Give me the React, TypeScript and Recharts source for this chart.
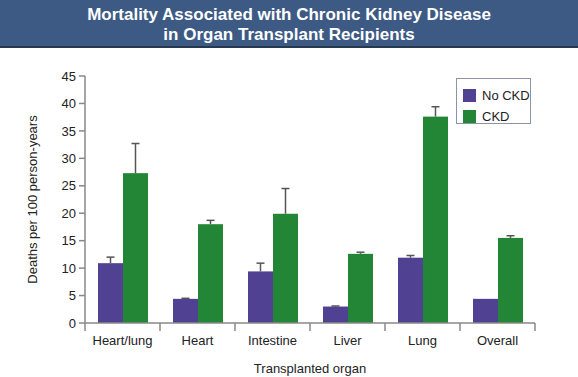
import { BarChart, Bar, XAxis, YAxis, Legend } from "recharts";

const organs = ["Heart/lung", "Heart", "Intestine", "Liver", "Lung", "Overall"];
const noCkd = [10.9, 4.4, 9.4, 3.0, 11.9, 4.4];
const noCkdErr = [1.1, 0.1, 1.5, 0.1, 0.4, 0];
const ckd = [27.3, 18.0, 19.9, 12.6, 37.6, 15.5];
const ckdErr = [5.4, 0.7, 4.6, 0.3, 1.8, 0.4];
const yTicks = [0, 5, 10, 15, 20, 25, 30, 35, 40, 45];

const PURPLE = "#514193";
const GREEN = "#238636";
const FONT = "'Liberation Sans', Arial, Helvetica, sans-serif";

const data = organs.map((o, i) => ({
  organ: o,
  noCkd: noCkd[i],
  noCkdErr: noCkdErr[i],
  ckd: ckd[i],
  ckdErr: ckdErr[i],
}));

// bar with an upper-only whisker (error scaled with the bar's own px/unit)
const barWithErr = (errKey: string) => (props: any) => {
  const { x, y, width, height, fill, payload, value } = props;
  const v = Array.isArray(value) ? value[1] - value[0] : value;
  const err = payload[errKey];
  const top = y - (err * height) / v;
  const cx = x + width / 2;
  return (
    <g>
      <rect x={x} y={y} width={width} height={height} fill={fill} />
      {err > 0 && (
        <g stroke="#555" strokeWidth={1.5}>
          <line x1={cx} y1={y} x2={cx} y2={top} />
          <line x1={cx - 4} y1={top} x2={cx + 4} y2={top} />
        </g>
      )}
    </g>
  );
};

function OrganTick(props: any) {
  const { x, y, payload, index, width, visibleTicksCount } = props;
  const half = width / visibleTicksCount / 2;
  return (
    <g>
      <line x1={x - half} y1={y - 8} x2={x - half} y2={y} stroke="#888" strokeWidth={1.5} />
      {index === visibleTicksCount - 1 && (
        <line x1={x + half} y1={y - 8} x2={x + half} y2={y} stroke="#888" strokeWidth={1.5} />
      )}
      <text x={x} y={y + 14} textAnchor="middle" fontSize={13} fill="#222" fontFamily={FONT}>
        {payload.value}
      </text>
    </g>
  );
}

function LegendBox() {
  const items = [
    { label: "No CKD", color: PURPLE },
    { label: "CKD", color: GREEN },
  ];
  return (
    <div
      style={{
        border: "1px solid #8a94a6",
        width: 75,
        height: 46,
        boxSizing: "border-box",
        padding: "6px 0 0 6px",
        fontFamily: FONT,
        fontSize: 13,
        color: "#222",
        background: "#fff",
        whiteSpace: "nowrap",
      }}
    >
      {items.map((it) => (
        <div key={it.label} style={{ display: "flex", alignItems: "center", height: 21 }}>
          <span style={{ display: "inline-block", width: 13, height: 13, background: it.color, marginRight: 6 }} />
          {it.label}
        </div>
      ))}
    </div>
  );
}

export default function App() {
  return (
    <div style={{ position: "absolute", left: 0, top: 0, width: 578, height: 377, background: "#fff" }}>
      <div
        style={{
          height: 48,
          background: "#3d5a84",
          borderBottom: "2px solid #26394f",
          color: "#fff",
          fontFamily: FONT,
          fontWeight: "bold",
          fontSize: 17,
          lineHeight: "20px",
          textAlign: "center",
          paddingTop: 5,
          boxSizing: "border-box",
        }}
      >
        Mortality Associated with Chronic Kidney Disease
        <br />
        in Organ Transplant Recipients
      </div>
      <div style={{ position: "absolute", left: 0, top: 48 }}>
        <BarChart
          width={578}
          height={329}
          data={data}
          margin={{ top: 28, right: 43, left: 0, bottom: 0 }}
          barGap={0}
          barSize={25}
        >
          <XAxis
            dataKey="organ"
            height={54}
            tickLine={false}
            axisLine={{ stroke: "#888", strokeWidth: 1.5 }}
            tick={<OrganTick />}
            interval={0}
            label={{
              value: "Transplanted organ",
              position: "insideBottom",
              offset: 4,
              style: { fontSize: 13, fill: "#222", fontFamily: FONT },
            }}
          />
          <YAxis
            width={85}
            domain={[0, 45]}
            ticks={yTicks}
            interval={0}
            tickSize={6}
            tickMargin={3}
            axisLine={{ stroke: "#888", strokeWidth: 1.5 }}
            tickLine={{ stroke: "#888", strokeWidth: 1.5 }}
            tick={{ fontSize: 13, fill: "#222", fontFamily: FONT }}
            label={{
              value: "Deaths per 100 person-years",
              angle: -90,
              position: "insideLeft",
              offset: 32,
              style: { textAnchor: "middle", fontSize: 13, fill: "#222", fontFamily: FONT },
            }}
          />
          <Legend
            layout="horizontal"
            verticalAlign="middle"
            align="center"
            content={() => <LegendBox />}
            wrapperStyle={{ left: 456, top: 30, width: 75 }}
          />
          <Bar dataKey="noCkd" name="No CKD" fill={PURPLE} isAnimationActive={false} shape={barWithErr("noCkdErr")} />
          <Bar dataKey="ckd" name="CKD" fill={GREEN} isAnimationActive={false} shape={barWithErr("ckdErr")} />
        </BarChart>
      </div>
    </div>
  );
}
